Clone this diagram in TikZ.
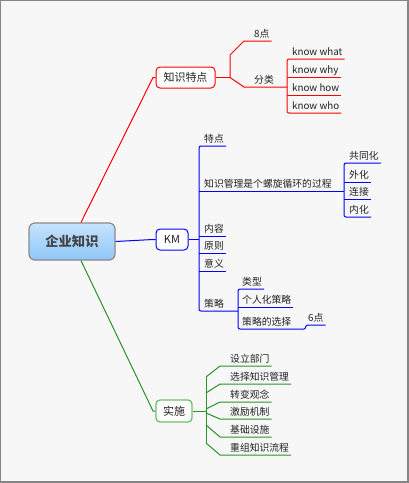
\documentclass[tikz,border=0pt]{standalone}
\usepackage{fontspec}
\setmainfont{Noto Sans CJK SC}
\usetikzlibrary{calc}
\definecolor{bg}{HTML}{F7F7F7}
\definecolor{frame}{HTML}{858585}
\definecolor{txt}{HTML}{222222}
\definecolor{rc}{HTML}{FF0000}
\definecolor{bc}{HTML}{0000FF}
\definecolor{gc}{HTML}{2A922A}
\definecolor{gbox}{HTML}{6CBF6C}
\definecolor{rootTop}{HTML}{C6E3FF}
\definecolor{rootBot}{HTML}{8FC7F7}
\definecolor{rootBd}{HTML}{8A8A8A}
\begin{document}
\begin{tikzpicture}[x=1pt,y=-1pt,
  topic/.style={anchor=base west,inner sep=0pt,text=txt,font=\fontsize{9.8}{12}\selectfont},
  mainbox/.style={rounded corners=4pt,fill=white,line width=1pt,minimum height=21pt,inner sep=0pt,text=txt,font=\fontsize{11}{13}\selectfont},
  rootbox/.style={rounded corners=6pt,top color=rootTop,bottom color=rootBot,draw=rootBd,line width=1.2pt,minimum width=86pt,minimum height=37pt,inner sep=0pt,text=txt!85!white,font=\fontsize{13.3}{15}\selectfont\bfseries},
  rl/.style={draw=rc,line width=1pt},
  bl/.style={draw=bc,line width=1pt},
  gl/.style={draw=gc,line width=1pt},
  brk/.style={rounded corners=2pt}]
\useasboundingbox (0,0) rectangle (409,483);
\fill[frame] (0,0) rectangle (409,483);
\fill[bg] (1,1) rectangle (407,481);

% main nodes
\node[rootbox] (root) at (72,241.5) {企业知识};
\node[mainbox,draw=rc,minimum width=59pt] (zs) at (185.5,77.5) {知识特点};
\node[mainbox,draw=bc,minimum width=32pt] (km) at (172,239.5) {KM};
\node[mainbox,draw=gbox,line width=1.3pt,minimum width=36pt,minimum height=22pt] (ss) at (174,411) {实施};

% root connectors
\draw[rl] ($(root.north)+(9,0)$) -- (153,77.5) -- (zs.west);
\draw[bl] (root.east) -- (153,239.5) -- (km.west);
\draw[gl] ($(root.south)+(9,0)$) -- (153,411) -- (ss.west);

% ---------- 知识特点 ----------
\node[topic] (b8) at (254,37.7) {8点};
\node[topic] (fl) at (254,83.7) {分类};
\coordinate (zsj) at (230,77.5);
\draw[rl] (zs.east) -- (zsj);
\draw[rl] (zsj) -- (230,55) -- (244,41) -- ($(b8.base east)+(2,3.3)$);
\draw[rl] (zsj) -- (244,87) -- (287,87);
\node[topic] (kwa) at (292,55.7) {know what};
\node[topic] (kwy) at (292,73.7) {know why};
\node[topic] (kho) at (292,91.7) {know how};
\node[topic] (kwo) at (292,109.7) {know who};
\draw[rl,brk] ($(kwa.base east)+(2,3.3)$) -- (287,59) -- (287,113) -- ($(kwo.base east)+(2,3.3)$);
\draw[rl] (287,77) -- ($(kwy.base east)+(2,3.3)$);
\draw[rl] (287,95) -- ($(kho.base east)+(2,3.3)$);

% ---------- KM ----------
\node[topic] (td) at (204,142.7) {特点};
\node[topic] (gl) at (204,187.7) {知识管理是个螺旋循环的过程};
\node[topic] (nr) at (204,232.7) {内容};
\node[topic] (yz) at (204,249.7) {原则};
\node[topic] (yy) at (204,267.7) {意义};
\node[topic] (cl) at (204,307.7) {策略};
\draw[bl] (km.east) -- (199,239.5);
\draw[bl,brk] ($(td.base east)+(2,3.3)$) -- (199,146) -- (199,311) -- (238,311);
\draw[bl] (199,191) -- (344,191);
\draw[bl] (199,236) -- ($(nr.base east)+(2,3.3)$);
\draw[bl] (199,253) -- ($(yz.base east)+(2,3.3)$);
\draw[bl] (199,271) -- ($(yy.base east)+(2,3.3)$);

\node[topic] (gth) at (349,159.7) {共同化};
\node[topic] (wh) at (349,178.7) {外化};
\node[topic] (lj) at (349,195.7) {连接};
\node[topic] (nh) at (349,213.7) {内化};
\draw[bl,brk] ($(gth.base east)+(2,3.3)$) -- (344,163) -- (344,217) -- ($(nh.base east)+(2,3.3)$);
\draw[bl] (344,182) -- ($(wh.base east)+(2,3.3)$);
\draw[bl] (344,199) -- ($(lj.base east)+(2,3.3)$);

\node[topic] (lx) at (242,285.7) {类型};
\node[topic] (grh) at (242,303.7) {个人化策略};
\node[topic] (clx) at (242,325.7) {策略的选择};
\node[topic] (b6) at (308,321.7) {6点};
\draw[bl,brk] ($(lx.base east)+(2,3.3)$) -- (238,289) -- (238,329) -- (304,329);
\draw[bl] (238,307) -- ($(grh.base east)+(2,3.3)$);
\draw[bl] (304,329) .. controls (306,329) and (305,325) .. (308,325) -- ($(b6.base east)+(2,3.3)$);

% ---------- 实施 ----------
\draw[gl] (ss.east) -- (206,411);
\draw[gl] (206,377) -- (206,443);
\node[topic] (s1) at (230,362.7) {设立部门};
\node[topic] (s2) at (230,380.7) {选择知识管理};
\node[topic] (s3) at (230,398.7) {转变观念};
\node[topic] (s4) at (230,415.7) {激励机制};
\node[topic] (s5) at (230,433.7) {基础设施};
\node[topic] (s6) at (230,451.7) {重组知识流程};
\draw[gl] (206,377) -- (220,366) -- ($(s1.base east)+(2,3.3)$);
\draw[gl] (206,393) -- (220,384) -- ($(s2.base east)+(2,3.3)$);
\draw[gl] (206,409) -- (220,402) -- ($(s3.base east)+(2,3.3)$);
\draw[gl] (206,413) -- (220,419) -- ($(s4.base east)+(2,3.3)$);
\draw[gl] (206,425) -- (220,437) -- ($(s5.base east)+(2,3.3)$);
\draw[gl] (206,443) -- (220,455) -- ($(s6.base east)+(2,3.3)$);
\end{tikzpicture}
\end{document}
